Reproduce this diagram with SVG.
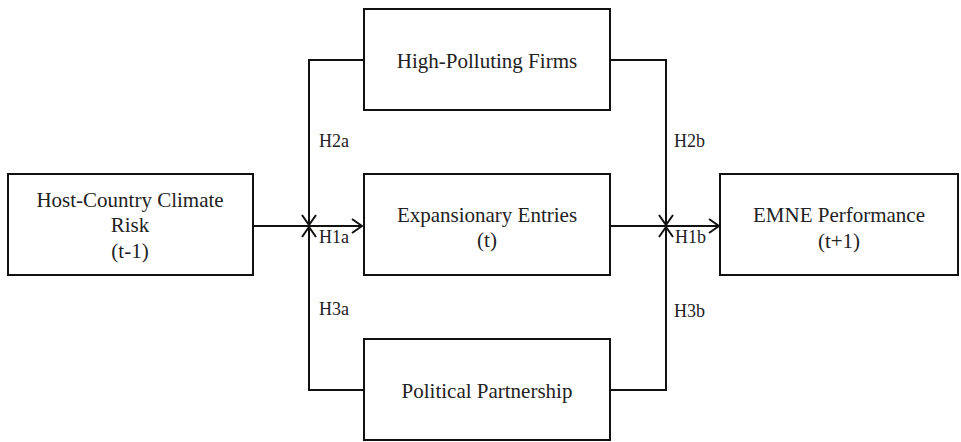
<svg xmlns="http://www.w3.org/2000/svg" width="961" height="442" viewBox="0 0 961 442">
<style>
.box{fill:#fff;stroke:#111;stroke-width:2}
.t{font-family:"Liberation Serif","Times New Roman",serif;font-size:21px;fill:#222;text-anchor:middle}
.l{font-family:"Liberation Serif","Times New Roman",serif;font-size:18px;fill:#222}
.c{fill:none;stroke:#111;stroke-width:2}
</style>
<defs>
<marker id="ah" viewBox="0 0 12 16" refX="11" refY="8" markerWidth="12" markerHeight="16" markerUnits="userSpaceOnUse" orient="auto">
<path d="M1,1 L11,8 L1,15" fill="none" stroke="#111" stroke-width="2"/>
</marker>
</defs>
<rect width="961" height="442" fill="#fff"/>
<g id="connectors">
<path class="c" d="M253,226 H362" marker-end="url(#ah)"/>
<path class="c" d="M364,60 H309 V225" marker-end="url(#ah)"/>
<path class="c" d="M364,390 H309 V227" marker-end="url(#ah)"/>
<path class="c" d="M610,226 H719" marker-end="url(#ah)"/>
<path class="c" d="M610,60 H666 V225" marker-end="url(#ah)"/>
<path class="c" d="M610,390 H666 V227" marker-end="url(#ah)"/>
<text class="l" x="319" y="147">H2a</text>
<text class="l" x="319" y="243">H1a</text>
<text class="l" x="319" y="315">H3a</text>
<text class="l" x="674" y="147">H2b</text>
<text class="l" x="675" y="243">H1b</text>
<text class="l" x="674" y="317">H3b</text>
</g>
<g id="host">
<rect class="box" x="8" y="174" width="245" height="101"/>
<text class="t" x="130" y="207">Host-Country Climate</text>
<text class="t" x="130" y="232">Risk</text>
<text class="t" x="130" y="258">(t-1)</text>
</g>
<g id="polluting">
<rect class="box" x="364" y="9" width="246" height="101"/>
<text class="t" x="487" y="68">High-Polluting Firms</text>
</g>
<g id="expansion">
<rect class="box" x="364" y="174" width="246" height="101"/>
<text class="t" x="487" y="222">Expansionary Entries</text>
<text class="t" x="487" y="247">(t)</text>
</g>
<g id="political">
<rect class="box" x="364" y="339" width="246" height="101"/>
<text class="t" x="487" y="398">Political Partnership</text>
</g>
<g id="emne">
<rect class="box" x="720" y="174" width="238" height="101"/>
<text class="t" x="839" y="222">EMNE Performance</text>
<text class="t" x="839" y="248">(t+1)</text>
</g>
</svg>
